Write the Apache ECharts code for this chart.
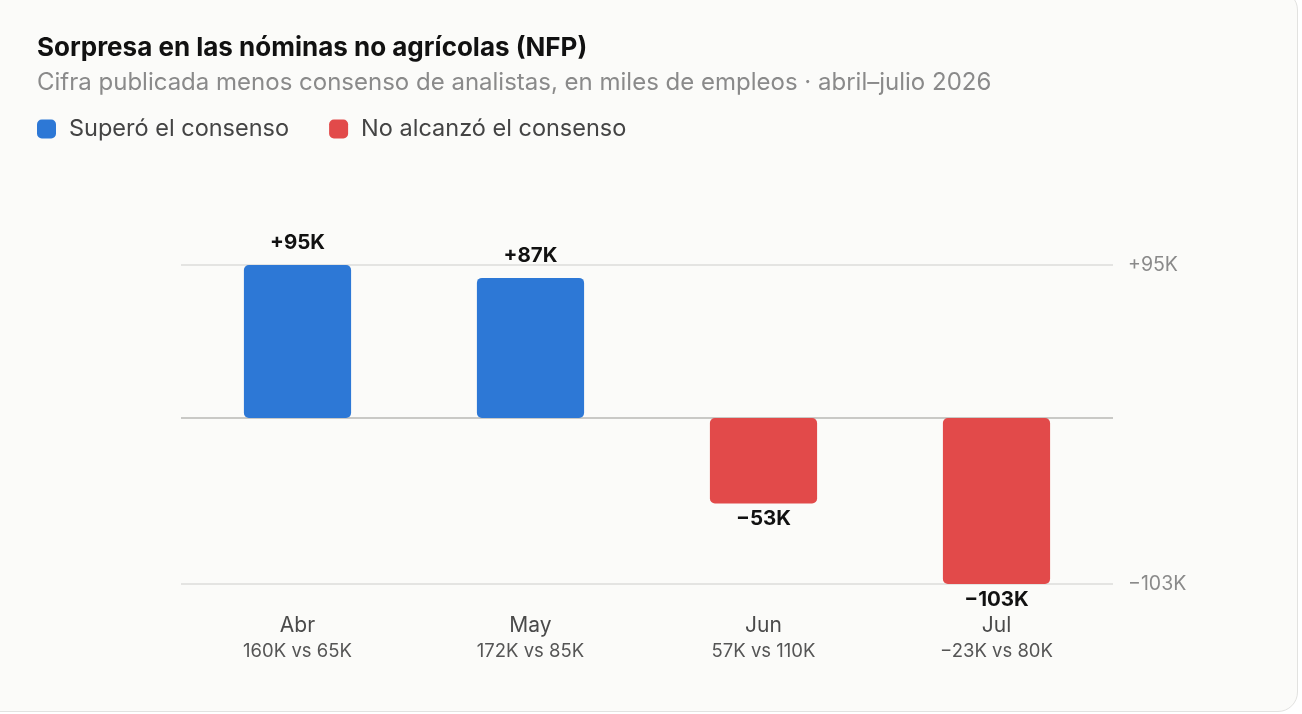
<!DOCTYPE html>
<html style="height: 100%">

<head>
    <meta charset="utf-8">
    <style>
        body { height: 100%; margin: 0; background: #ffffff; overflow: hidden; }
        #card {
            position: absolute; left: -20px; top: -10px; width: 1316px; height: 720px;
            background: #fbfbf9; border: 1.5px solid #e2e2e0; border-radius: 20px;
        }
        #main { position: absolute; left: 0; top: 0; width: 1302px; height: 714px; }
    </style>
</head>

<body>
    <div id="card"></div>
    <div id="main"></div>

    <script type="text/javascript" src="https://cdn.jsdelivr.net/npm/echarts@6/dist/echarts.min.js"></script>

    <script type="text/javascript">
        // miles de empleos
        var months = ['Abr', 'May', 'Jun', 'Jul'];
        var published = [160, 172, 57, -23];
        var consensus = [65, 85, 110, 80];
        var surprise = [95, 87, -53, -103];

        var blue = '#2d78d6';
        var red = '#e24a4a';
        var font = 'Inter, "Noto Sans", sans-serif';

        function fmtK(v) {
            return (v < 0 ? '\u2212' + Math.abs(v) : '+' + v) + 'K';
        }
        function plainK(v) {
            return (v < 0 ? '\u2212' + Math.abs(v) : v) + 'K';
        }

        var yMax = Math.max.apply(null, surprise);
        var yMin = Math.min.apply(null, surprise);

        var beat = surprise.map(function (v) { return v >= 0 ? v : '-'; });
        var miss = surprise.map(function (v) { return v < 0 ? v : '-'; });

        var myChart = echarts.init(document.getElementById('main'));

        var option = {
            textStyle: { fontFamily: font },
            title: {
                text: 'Sorpresa en las nóminas no agrícolas (NFP)',
                subtext: 'Cifra publicada menos consenso de analistas, en miles de empleos · abril–julio 2026',
                left: 37,
                top: 33,
                padding: 0,
                itemGap: 6,
                textStyle: { fontSize: 26, fontWeight: 'bold', color: '#111', lineHeight: 30, fontFamily: font },
                subtextStyle: { fontSize: 24, color: '#8a8a8a', lineHeight: 28, fontFamily: font }
            },
            legend: {
                left: 37,
                top: 117,
                padding: 0,
                icon: 'roundRect',
                itemWidth: 19,
                itemHeight: 19,
                itemGap: 40,
                textStyle: { fontSize: 23.5, color: '#444', padding: [0, 0, 0, 8], fontFamily: font },
                data: ['Superó el consenso', 'No alcanzó el consenso']
            },
            grid: { left: 181, right: 189, top: 265, bottom: 130 },
            xAxis: {
                type: 'category',
                data: months,
                axisLine: { show: false, onZero: false },
                axisTick: { show: false },
                axisLabel: {
                    margin: 28,
                    interval: 0,
                    formatter: function (value, idx) {
                        return '{m|' + value + '}\n{s|' + plainK(published[idx]) + ' vs ' + plainK(consensus[idx]) + '}';
                    },
                    rich: {
                        m: { fontSize: 21, color: '#4a4a4a', lineHeight: 27, fontFamily: font },
                        s: { fontSize: 18.5, color: '#555', lineHeight: 25, fontFamily: font }
                    }
                }
            },
            yAxis: {
                type: 'value',
                position: 'right',
                min: yMin,
                max: yMax,
                splitLine: { show: false },
                axisLine: { show: false },
                axisTick: { show: false },
                axisLabel: {
                    customValues: [yMax, yMin],
                    margin: 15,
                    fontSize: 19.5,
                    color: '#8a8a8a',
                    fontFamily: font,
                    formatter: function (v) { return fmtK(v); }
                }
            },
            series: [
                {
                    name: 'Superó el consenso',
                    type: 'bar',
                    data: beat,
                    barWidth: '46%',
                    barGap: '-100%',
                    itemStyle: { color: blue, borderRadius: 5 },
                    label: {
                        show: true,
                        position: 'top',
                        distance: 12,
                        fontSize: 20.5,
                        fontWeight: 'bold',
                        color: '#111',
                        fontFamily: font,
                        formatter: function (p) { return fmtK(p.value); }
                    },
                    markLine: {
                        silent: true,
                        symbol: 'none',
                        label: { show: false },
                        z: 1,
                        data: [
                            { yAxis: yMax, lineStyle: { color: '#dcdcda', width: 1.5, type: 'solid' } },
                            { yAxis: yMin, lineStyle: { color: '#dcdcda', width: 1.5, type: 'solid' } },
                            { yAxis: 0, lineStyle: { color: '#b8b8b4', width: 1.5, type: 'solid' } }
                        ]
                    }
                },
                {
                    name: 'No alcanzó el consenso',
                    type: 'bar',
                    data: miss,
                    barWidth: '46%',
                    barGap: '-100%',
                    itemStyle: { color: red, borderRadius: 5 },
                    label: {
                        show: true,
                        position: 'bottom',
                        distance: 5,
                        fontSize: 20.5,
                        fontWeight: 'bold',
                        color: '#111',
                        fontFamily: font,
                        formatter: function (p) { return fmtK(p.value); }
                    }
                }
            ]
        };

        if (option && typeof option === 'object') {
            myChart.setOption(option);
        }
    </script>
</body>

</html>
